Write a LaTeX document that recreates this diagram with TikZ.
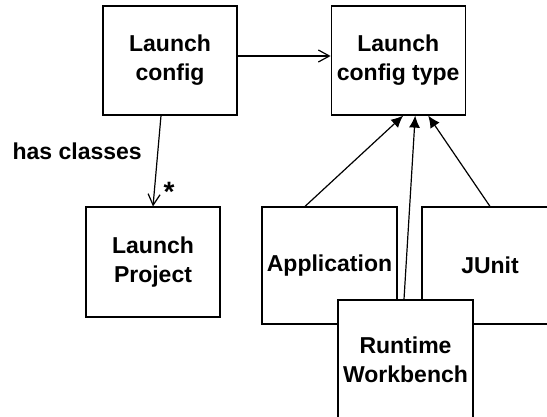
\documentclass[tikz,border=0pt]{standalone}
\usepackage{fontspec}
\setmainfont{Liberation Sans}
\usetikzlibrary{arrows.meta,positioning}

\begin{document}
\begin{tikzpicture}[x=1pt,y=-1pt,line width=1.2pt,
  box/.style={draw,fill=white,align=center,inner sep=0pt,
    minimum width=134pt,minimum height=109pt,
    font=\fontsize{23}{29}\selectfont\bfseries},
  lbl/.style={font=\fontsize{23}{29}\selectfont\bfseries,inner sep=0pt},
  assoc/.style={-{Straight Barb[length=11pt,width=12pt]}},
  inherit/.style={-{Latex[length=12pt,width=11pt]}}]
  \useasboundingbox (0,0) rectangle (547,417);

  \node[box]                  (lc)  at (170,60.5) {Launch\\config};
  \node[box,right=93pt of lc] (lct)               {Launch\\config type};
  \node[box,minimum height=110pt] (lp) at (153,262) {Launch\\Project};
  \node[box,minimum width=135pt,minimum height=117pt] (app) at (329.5,265.5) {Application};
  \node[box,minimum width=136pt,minimum height=117pt] (ju)  at (490,265.5)   {JUnit};
  \node[box,minimum width=135pt,minimum height=120pt] (rw)  at (405.5,360)   {Runtime\\Workbench};

  % association
  \draw[assoc] ([yshift=4.5pt]lc.east) -- ([yshift=4.5pt]lct.west);
  \draw[assoc] ([xshift=-9pt]lc.south) -- (lp.north);
  \node[lbl,anchor=base west] (hc)   at (12,160)  {has classes};
  \node[lbl,anchor=base,font=\fontsize{28}{30}\selectfont\bfseries] (mult) at (169,202) {*};

  % subtypes
  \draw[inherit] ([xshift=-24.5pt]app.north) -- ([xshift=5pt]lct.south);
  \draw[inherit] ([xshift=-1.5pt]rw.north)   -- ([xshift=17pt]lct.south);
  \draw[inherit] (ju.north)                  -- ([xshift=30pt]lct.south);
\end{tikzpicture}
\end{document}
